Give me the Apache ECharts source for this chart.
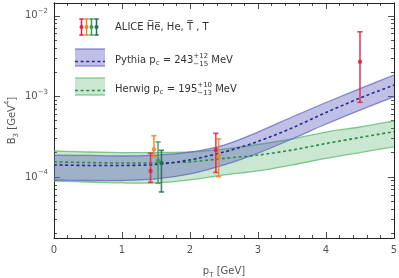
<!DOCTYPE html>
<html><head><meta charset="utf-8">
<script src="https://cdn.jsdelivr.net/npm/echarts@6/dist/echarts.min.js"></script>
<style>html,body{margin:0;padding:0;background:#fff}#c{width:399px;height:278px}</style>
</head><body><div id="c"></div>
<script>
// ---- data ----
const ptGrid = [0, 0.5, 1, 1.5, 2, 2.5, 3, 3.5, 4, 4.5, 5];
const pythiaCentral = [1.41e-4, 1.39e-4, 1.39e-4, 1.43e-4, 1.63e-4, 2.04e-4, 2.76e-4, 4.05e-4, 6.31e-4, 9.54e-4, 1.38e-3];
const pythiaLower   = [9.18e-5, 9.05e-5, 9.05e-5, 9.45e-5, 1.09e-4, 1.41e-4, 1.98e-4, 2.96e-4, 4.54e-4, 6.77e-4, 9.9e-4];
const pythiaUpper   = [1.87e-4, 1.85e-4, 1.82e-4, 1.87e-4, 2.04e-4, 2.49e-4, 3.61e-4, 5.55e-4, 8.39e-4, 1.25e-3, 1.84e-3];
const herwigCentral = [1.54e-4, 1.51e-4, 1.49e-4, 1.49e-4, 1.54e-4, 1.70e-4, 1.87e-4, 2.16e-4, 2.60e-4, 3.09e-4, 3.65e-4];
const herwigLower   = [8.92e-5, 8.67e-5, 8.43e-5, 8.43e-5, 9.18e-5, 1.06e-4, 1.19e-4, 1.41e-4, 1.70e-4, 2.01e-4, 2.37e-4];
const herwigUpper   = [2.10e-4, 2.04e-4, 2.01e-4, 2.01e-4, 2.04e-4, 2.22e-4, 2.53e-4, 2.96e-4, 3.61e-4, 4.17e-4, 4.95e-4];

const antiHePt = [1.42, 2.38, 4.5];
const antiHeB3 = [1.19e-4, 2.16e-4, 2.69e-3];
const antiHeLo = [8.6e-5, 1.14e-4, 8.44e-4];
const antiHeHi = [1.97e-4, 3.48e-4, 6.33e-3];
const hePt = [1.47, 2.42];
const heB3 = [2.21e-4, 1.82e-4];
const heLo = [1.77e-4, 1.01e-4];
const heHi = [3.25e-4, 2.96e-4];
const antiTPt = [1.53];
const antiTB3 = [1.59e-4];
const antiTLo = [8.35e-5];
const antiTHi = [2.72e-4];
const tPt = [1.58];
const tB3 = [1.49e-4];
const tLo = [6.52e-5];
const tHi = [2.14e-4];

const xTicks = [0, 1, 2, 3, 4, 5];
const yMajorTicks = [1e-4, 1e-3, 1e-2];
const yMinorTicks = [2e-5,3e-5,4e-5,5e-5,6e-5,7e-5,8e-5,9e-5,
  2e-4,3e-4,4e-4,5e-4,6e-4,7e-4,8e-4,9e-4,
  2e-3,3e-3,4e-3,5e-3,6e-3,7e-3,8e-3,9e-3];
const Y_MIN = 1.75e-5, Y_MAX = 1.44e-2;

// ---- style ----
const FONT = 'DejaVu Sans';
const C_RED = '#e3223d', C_ORANGE = '#f5821f', C_GREEN = '#3a9a5c', C_TEAL = '#256b58';
const P_FILL = 'rgba(90,90,190,0.38)', P_EDGE = 'rgba(100,100,195,0.75)', P_LINE = '#2a2a8c';
const H_FILL = 'rgba(60,170,90,0.28)', H_EDGE = 'rgba(90,185,110,0.75)', H_LINE = '#2e8b46';
const AX = '#222', TXT = '#555';

// y axis is a decade (log10) axis: values are converted with log10 and labelled as powers of ten.
const L = v => Math.log10(v);
const chart = echarts.init(document.getElementById('c'), null, {renderer: 'canvas'});

function zipLog(a, b) { return a.map((v, i) => [v, L(b[i])]); }
function errData(x, c, lo, hi) { return x.map((v, i) => [v, L(c[i]), L(lo[i]), L(hi[i])]); }
function bandData(x, lo, up) { return x.map((v, i) => [v, L(lo[i]), L(up[i])]); }

// smooth path (Catmull-Rom) through pixel points
function crPath(pts, start) {
  let d = (start ? 'M' : 'L') + pts[0][0] + ' ' + pts[0][1];
  for (let i = 0; i < pts.length - 1; i++) {
    const p0 = pts[i - 1] || pts[i], p1 = pts[i], p2 = pts[i + 1], p3 = pts[i + 2] || pts[i + 1];
    const c1x = p1[0] + (p2[0] - p0[0]) / 6, c1y = p1[1] + (p2[1] - p0[1]) / 6;
    const c2x = p2[0] - (p3[0] - p1[0]) / 6, c2y = p2[1] - (p3[1] - p1[1]) / 6;
    d += ' C' + c1x + ' ' + c1y + ' ' + c2x + ' ' + c2y + ' ' + p2[0] + ' ' + p2[1];
  }
  return d;
}
function bandRender(fill, edge) {
  return function (params, api) {
    if (params.dataIndexInside !== 0) return null;
    const n = params.dataInsideLength;
    const up = [], lo = [];
    for (let i = 0; i < n; i++) {
      const x = api.value(0, i);
      lo.push(api.coord([x, api.value(1, i)]));
      up.push(api.coord([x, api.value(2, i)]));
    }
    const loRev = lo.slice().reverse();
    return {type: 'group', children: [
      {type: 'path', shape: {pathData: crPath(up, true) + ' ' + crPath(loRev, false) + ' Z'}, style: {fill: fill, stroke: null}},
      {type: 'path', shape: {pathData: crPath(up, true)}, style: {fill: null, stroke: edge, lineWidth: 1.3}},
      {type: 'path', shape: {pathData: crPath(lo, true)}, style: {fill: null, stroke: edge, lineWidth: 1.3}}
    ]};
  };
}
function bandSeries(name, data, fill, edge, z) {
  return {name: name, type: 'custom', renderItem: bandRender(fill, edge), data: data, z: z,
    encode: {x: 0, y: [1, 2]}, silent: true, clip: true};
}

function errRender(color) {
  return function (params, api) {
    const x = api.value(0), y = api.value(1), lo = api.value(2), hi = api.value(3);
    const pc = api.coord([x, y]), pl = api.coord([x, lo]), ph = api.coord([x, hi]);
    const cw = 2.6;
    const st = {stroke: color, lineWidth: 1.6, opacity: 0.85};
    return {type: 'group', children: [
      {type: 'line', shape: {x1: pc[0], y1: pl[1], x2: pc[0], y2: ph[1]}, style: st},
      {type: 'line', shape: {x1: pc[0] - cw, y1: ph[1], x2: pc[0] + cw, y2: ph[1]}, style: st},
      {type: 'line', shape: {x1: pc[0] - cw, y1: pl[1], x2: pc[0] + cw, y2: pl[1]}, style: st},
      {type: 'circle', shape: {cx: pc[0], cy: pc[1], r: 2.2}, style: {fill: color, opacity: 0.85}}
    ]};
  };
}
function errSeries(color, data) {
  return {type: 'custom', renderItem: errRender(color), data: data, z: 10,
    encode: {x: 0, y: [1, 2, 3]}, silent: true, clip: false};
}

const richNum = {
  b: {fontSize: 10, fontFamily: FONT, color: TXT, lineHeight: 16},
  s: {fontSize: 7, fontFamily: FONT, color: TXT, lineHeight: 8, verticalAlign: 'top'}
};
const richName = {
  n: {fontSize: 10, fontFamily: FONT, color: TXT, lineHeight: 16},
  sup: {fontSize: 7, fontFamily: FONT, color: TXT, lineHeight: 9, verticalAlign: 'top'},
  sub: {fontSize: 7, fontFamily: FONT, color: TXT, lineHeight: 9, verticalAlign: 'bottom'}
};

function yAx(pos, major, withLabel) {
  return {
    type: 'value', min: L(Y_MIN), max: L(Y_MAX), position: pos,
    name: withLabel ? '{n|B}{sub|3}{n| [GeV}{sup|4}{n|]}' : '',
    nameLocation: 'middle', nameGap: 34, nameRotate: 90, nameMoveOverlap: false,
    nameTextStyle: {rich: richName},
    axisLine: {show: true, lineStyle: {color: AX, width: 1}},
    axisTick: {show: true, inside: true, length: major ? 6 : 3,
      customValues: (major ? yMajorTicks : yMinorTicks).map(L),
      lineStyle: {color: AX, width: 0.8}},
    axisLabel: withLabel ? {show: true, customValues: yMajorTicks.map(L), margin: 6,
      formatter: v => '{b|10}{s|\u2212' + Math.round(-v) + '}', rich: richNum} : {show: false},
    splitLine: {show: false}, minorTick: {show: false}
  };
}
function xAx(pos, withLabel) {
  return {
    type: 'value', min: 0, max: 5, interval: 1, position: pos,
    name: withLabel ? '{n|p}{sub|T}{n| [GeV]}' : '',
    nameLocation: 'middle', nameGap: 25, nameTextStyle: {rich: richName},
    axisLine: {show: true, lineStyle: {color: AX, width: 1}},
    axisTick: {show: true, inside: true, length: 6, lineStyle: {color: AX, width: 0.8}},
    minorTick: {show: true, splitNumber: 5, length: 3, lineStyle: {color: AX, width: 0.8}},
    axisLabel: withLabel ? {show: true, color: TXT, fontSize: 10, fontFamily: FONT, margin: 7,
      customValues: xTicks} : {show: false},
    splitLine: {show: false}
  };
}

// ---- legend (graphic) ----
const mctx = document.createElement('canvas').getContext('2d');
function tw(t, size) { mctx.font = size + 'px "' + FONT + '"'; return mctx.measureText(t).width; }
function textRow(pieces, x0, yc) {
  const els = []; let x = x0;
  pieces.forEach(p => {
    if (p.sup !== undefined) {
      const w = Math.max(tw(p.sup, 7), tw(p.sub, 7));
      els.push({type: 'text', x: x, y: yc - 4, style: {text: p.sup, fontSize: 7, fontFamily: FONT, fill: '#333', verticalAlign: 'middle', align: 'left'}});
      els.push({type: 'text', x: x, y: yc + 4, style: {text: p.sub, fontSize: 7, fontFamily: FONT, fill: '#333', verticalAlign: 'middle', align: 'left'}});
      x += w;
    } else {
      const s = p.size || 10;
      els.push({type: 'text', x: x, y: yc + (p.dy || 0), style: {text: p.t, fontSize: s, fontFamily: FONT, fill: '#333', verticalAlign: 'middle', align: 'left'}});
      x += tw(p.t, s);
    }
  });
  return els;
}
const legendEls = [];
[[C_RED, 81.5], [C_ORANGE, 86.5], [C_GREEN, 91.5], [C_TEAL, 96.5]].forEach(([col, x]) => {
  const st = {stroke: col, lineWidth: 1.5};
  legendEls.push({type: 'line', shape: {x1: x, y1: 19, x2: x, y2: 35}, style: st});
  legendEls.push({type: 'line', shape: {x1: x - 2.2, y1: 19, x2: x + 2.2, y2: 19}, style: st});
  legendEls.push({type: 'line', shape: {x1: x - 2.2, y1: 35, x2: x + 2.2, y2: 35}, style: st});
  legendEls.push({type: 'circle', shape: {cx: x, cy: 27, r: 2}, style: {fill: col}});
});
function bandIcon(yc, fill, edge, line) {
  legendEls.push({type: 'rect', shape: {x: 75, y: yc - 11, width: 30, height: 17}, style: {fill: fill}});
  legendEls.push({type: 'line', shape: {x1: 75, y1: yc - 11, x2: 105, y2: yc - 11}, style: {stroke: edge, lineWidth: 1.3}});
  legendEls.push({type: 'line', shape: {x1: 75, y1: yc + 6, x2: 105, y2: yc + 6}, style: {stroke: edge, lineWidth: 1.3}});
  legendEls.push({type: 'line', shape: {x1: 75, y1: yc + 1.5, x2: 105, y2: yc + 1.5}, style: {stroke: line, lineWidth: 1.6, lineDash: [3, 2.6]}});
}
bandIcon(60, P_FILL, P_EDGE, P_LINE);
bandIcon(89, H_FILL, H_EDGE, H_LINE);
legendEls.push(...textRow([{t: 'ALICE H\u0305e\u0305, He, T\u0305 , T'}], 115, 27));
legendEls.push(...textRow([{t: 'Pythia p'}, {t: 'c', size: 7, dy: 3}, {t: ' = 243'}, {sup: '+12', sub: '\u221215'}, {t: ' MeV'}], 115, 60));
legendEls.push(...textRow([{t: 'Herwig p'}, {t: 'c', size: 7, dy: 3}, {t: ' = 195'}, {sup: '+10', sub: '\u221213'}, {t: ' MeV'}], 115, 89));

const option = {
  animation: false,
  backgroundColor: '#fff',
  grid: {left: 54, right: 5, top: 3, bottom: 40, containLabel: false, outerBoundsMode: 'none'},
  xAxis: [xAx('bottom', true), xAx('top', false)],
  yAxis: [yAx('left', true, true), yAx('left', false, false), yAx('right', true, false), yAx('right', false, false)],
  series: [
    bandSeries('Herwig band', bandData(ptGrid, herwigLower, herwigUpper), H_FILL, H_EDGE, 2),
    bandSeries('Pythia band', bandData(ptGrid, pythiaLower, pythiaUpper), P_FILL, P_EDGE, 3),
    {name: 'Herwig', type: 'line', data: zipLog(ptGrid, herwigCentral), smooth: 0.3, symbol: 'none',
      lineStyle: {color: H_LINE, width: 1.6, type: [3, 2.6]}, z: 4, silent: true},
    {name: 'Pythia', type: 'line', data: zipLog(ptGrid, pythiaCentral), smooth: 0.3, symbol: 'none',
      lineStyle: {color: P_LINE, width: 1.6, type: [3, 2.6]}, z: 4, silent: true},
    errSeries(C_RED, errData(antiHePt, antiHeB3, antiHeLo, antiHeHi)),
    errSeries(C_ORANGE, errData(hePt, heB3, heLo, heHi)),
    errSeries(C_GREEN, errData(antiTPt, antiTB3, antiTLo, antiTHi)),
    errSeries(C_TEAL, errData(tPt, tB3, tLo, tHi))
  ],
  graphic: legendEls
};
chart.setOption(option);
</script>
</body></html>
